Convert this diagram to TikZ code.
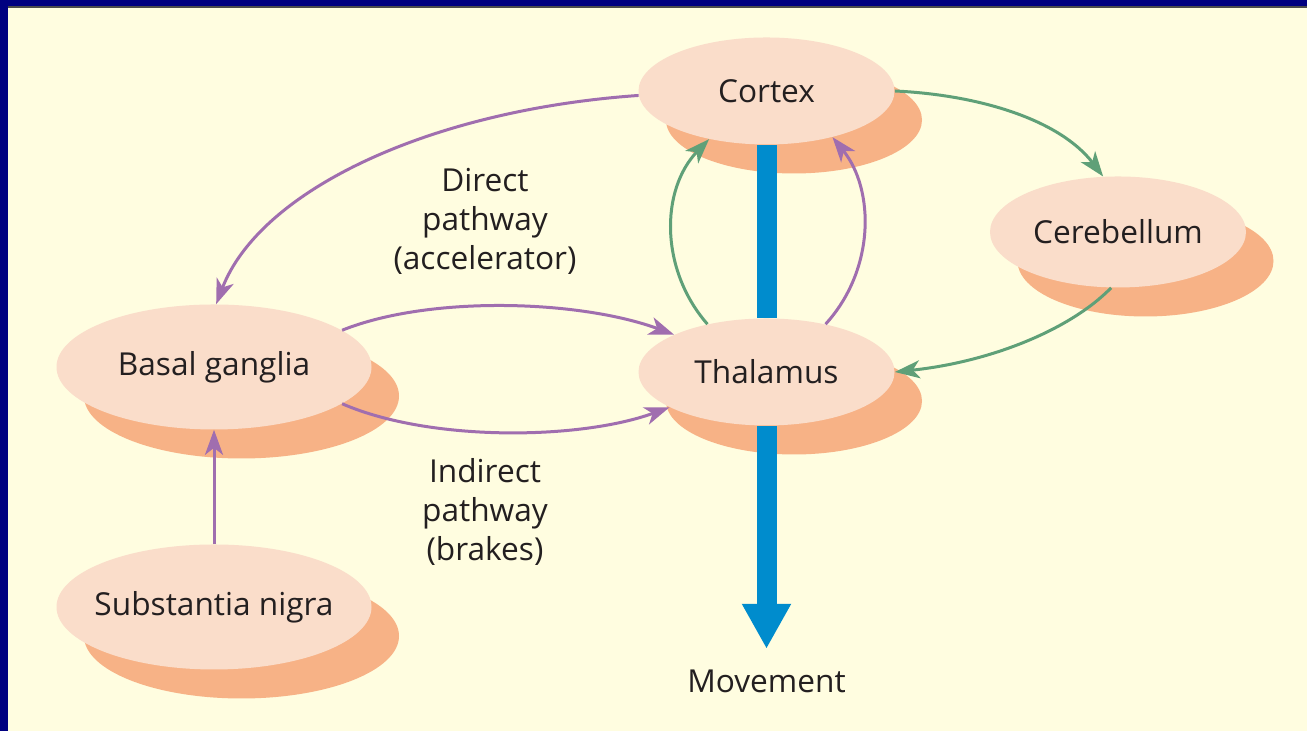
\documentclass[tikz,border=0pt]{standalone}
\usepackage{fontspec}
\setmainfont{Open Sans}
\usepackage{xcolor}
\usepackage{tikz}
\usetikzlibrary{arrows.meta, positioning, shapes.geometric, shadows}
\definecolor{creamcolor}{RGB}{255,253,224}
\definecolor{framecolor}{RGB}{0,0,128}
\definecolor{frontcolor}{RGB}{250,221,202}
\definecolor{shadecolor}{RGB}{247,178,134}
\definecolor{purplecolor}{RGB}{160,110,175}
\definecolor{greencolor}{RGB}{95,160,120}
\definecolor{barcolor}{RGB}{0,140,205}
\definecolor{inkcolor}{RGB}{35,31,32}

\begin{document}
\begin{tikzpicture}[
  region/.style={ellipse, fill=frontcolor, text=inkcolor, inner sep=0pt,
                 minimum width=5.12cm, minimum height=2.14cm,
                 font=\fontsize{18}{22}\selectfont,
                 drop shadow={opacity=1, fill=shadecolor,
                              shadow xshift=0.55cm, shadow yshift=-0.58cm}},
  bigregion/.style={region, inner xsep=-0.6cm,
                    minimum width=6.3cm, minimum height=2.5cm},
  label/.style={align=center, text=inkcolor,
                font=\fontsize{18}{22.2}\selectfont},
  parrow/.style={-{Stealth[length=0.5cm, width=0.36cm, inset=0.14cm]},
                 line width=0.06cm, color=purplecolor},
  garrow/.style={-{Stealth[length=0.5cm, width=0.36cm, inset=0.14cm]},
                 line width=0.06cm, color=greencolor},
  bar/.style={line width=0.4cm, color=barcolor},
]
% frame and background
\useasboundingbox (0,0) rectangle (26.14,14.62);
\fill[creamcolor] (0,0) rectangle (26.14,14.62);
\fill[framecolor] (0,0) rectangle (0.16,14.62);
\fill[framecolor] (0,14.5) rectangle (26.14,14.62);
\draw[line width=0.04cm, black!70] (0.16,14.47) -- (26.14,14.47);

% regions
\node[region] (cortex) at (15.33,12.8) {Cortex};
\node[region] (thal) at (15.33,7.18) {Thalamus};
\node[region, minimum height=2.22cm] (cereb) at (22.36,9.98) {Cerebellum};
\node[bigregion] (basal) at (4.28,7.28) {Basal ganglia};
\node[bigregion] (nigra) at (4.28,2.48) {Substantia nigra};
\node[label] (move) at (15.33,1.0) {Movement};

\node[label] (direct) at (9.7,10.2) {Direct\\pathway\\(accelerator)};
\node[label] (indirect) at (9.7,4.38) {Indirect\\pathway\\(brakes)};

% output bar
\draw[bar] (cortex.south) -- (thal.north);
\draw[bar, -{Triangle[length=0.9cm, width=0.92cm]}, shorten >=0.29cm]
  (thal.south) -- (move.north);

% basal ganglia loop
\draw[parrow] (cortex.182) .. controls (8.6,12.42) and (5.2,10.82) .. (basal.88);
\draw[parrow] (basal.16) .. controls (8.6,8.72) and (11.6,8.62) .. (thal.158);
\draw[parrow] (basal.-16) .. controls (8.6,5.78) and (11.6,5.82) .. (thal.200);
\draw[parrow] (nigra) -- (basal);
\draw[parrow] (thal.39) .. controls (17.5,9.22) and (17.5,10.82) .. (cortex.-35);

% cerebellum loop
\draw[garrow] (thal.141) .. controls (13.2,9.22) and (13.2,10.82) .. (cortex.220);
\draw[garrow] (cortex.east) .. controls (19.6,12.72) and (21.2,12.22) .. (cereb.105);
\draw[garrow] (cereb.-97) .. controls (21.4,8.02) and (19.8,7.38) .. (thal.east);
\end{tikzpicture}
\end{document}
